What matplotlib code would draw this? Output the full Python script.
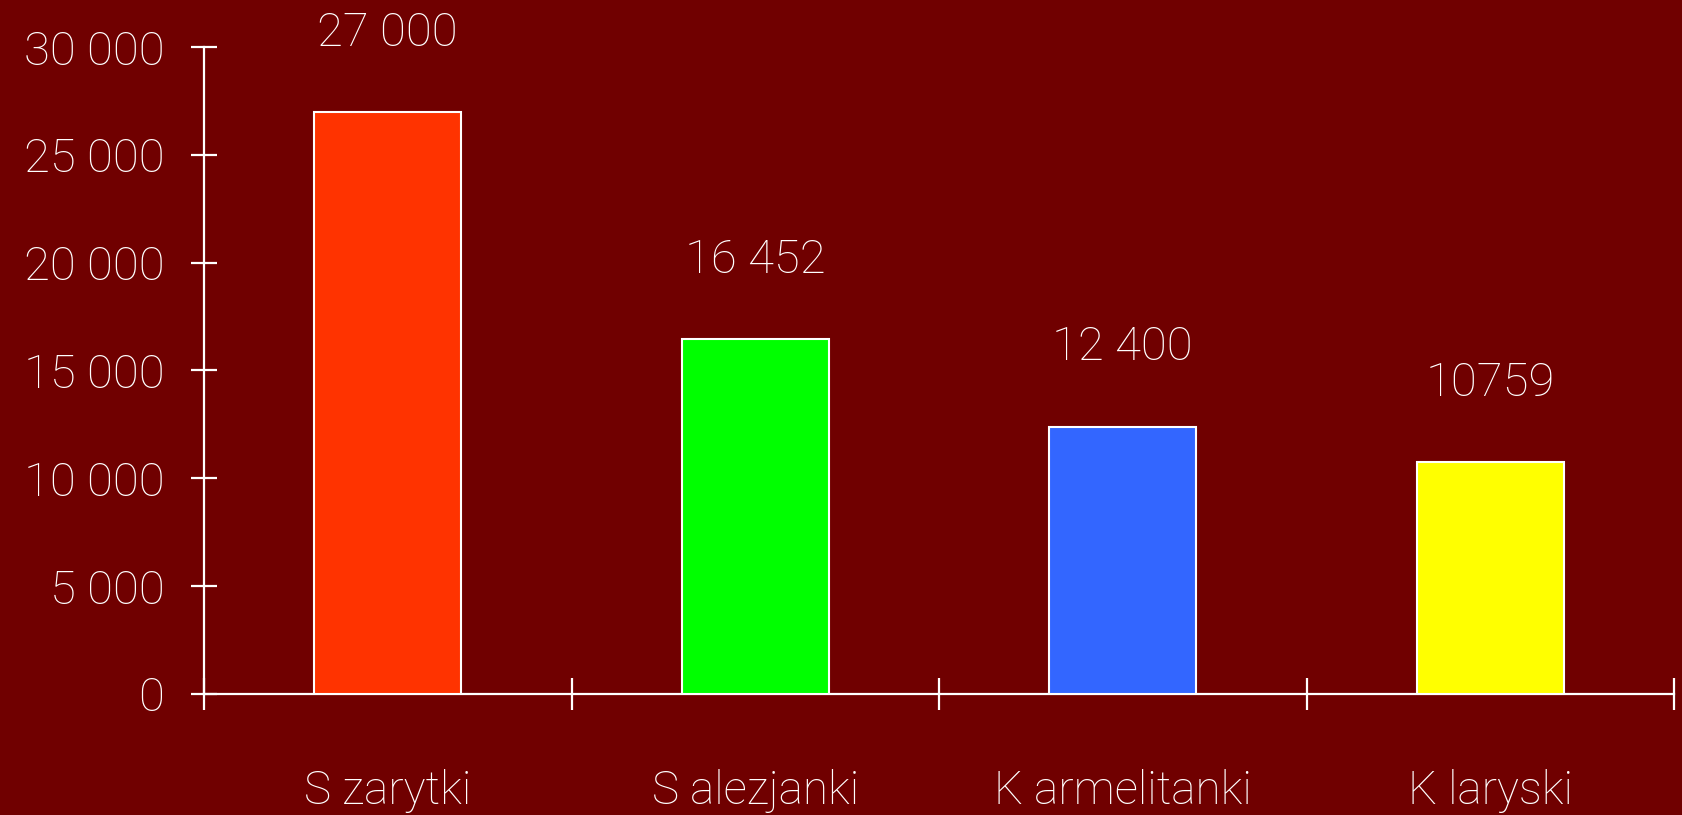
import matplotlib
matplotlib.use("Agg")
import matplotlib.pyplot as plt
from matplotlib.ticker import FixedLocator, FuncFormatter

categories = ["S zarytki", "S alezjanki", "K armelitanki", "K laryski"]
values = [27000, 16452, 12400, 10759]
value_labels = ["27 000", "16 452", "12 400", "10759"]
colors = ["#FF3300", "#00FF00", "#3366FF", "#FFFF00"]
yticks = [0, 5000, 10000, 15000, 20000, 25000, 30000]

BG = "#700000"
plt.rcParams['font.family'] = ['Roboto', 'DejaVu Sans']
plt.rcParams['font.weight'] = 'light'

fig = plt.figure(figsize=(16.83, 8.15), dpi=100, facecolor=BG)
ax = fig.add_axes([0.1212, 0.1485, 0.9947 - 0.1212, 0.9423 - 0.1485])
ax.set_facecolor(BG)

x = list(range(len(categories)))
bars = ax.bar(x, values, width=0.4, color=colors, edgecolor="white", linewidth=1.5, zorder=3)

for xi, v, lab in zip(x, values, value_labels):
    ax.annotate(lab, (xi, v), xytext=(0, 57), textcoords="offset points",
                ha="center", va="center", color="white", fontsize=34, fontweight="light")

ax.set_xlim(-0.5, len(categories) - 0.5)
ax.set_ylim(0, 30000)

for s in ["top", "right"]:
    ax.spines[s].set_visible(False)
for s in ["left", "bottom"]:
    ax.spines[s].set_color("white")
    ax.spines[s].set_linewidth(1.6)

ax.set_yticks(yticks)
ax.yaxis.set_major_formatter(FuncFormatter(lambda v, p: f"{int(v):,}".replace(",", " ")))
ax.tick_params(axis="y", direction="inout", length=19, width=1.6, colors="white",
               labelsize=34, pad=19)

ax.xaxis.set_major_locator(FixedLocator([i - 0.5 for i in range(len(categories) + 1)]))
ax.xaxis.set_major_formatter(FuncFormatter(lambda v, p: ""))
ax.xaxis.set_minor_locator(FixedLocator(x))
ax.set_xticklabels(categories, minor=True)
ax.tick_params(axis="x", which="major", direction="inout", length=23, width=1.6, colors="white")
ax.tick_params(axis="x", which="minor", length=0, colors="white", labelsize=33, pad=54)

for t in ax.get_yticklabels() + ax.get_xticklabels(minor=True):
    t.set_fontweight("light")

fig.savefig("out.png", dpi=100, facecolor=BG)
